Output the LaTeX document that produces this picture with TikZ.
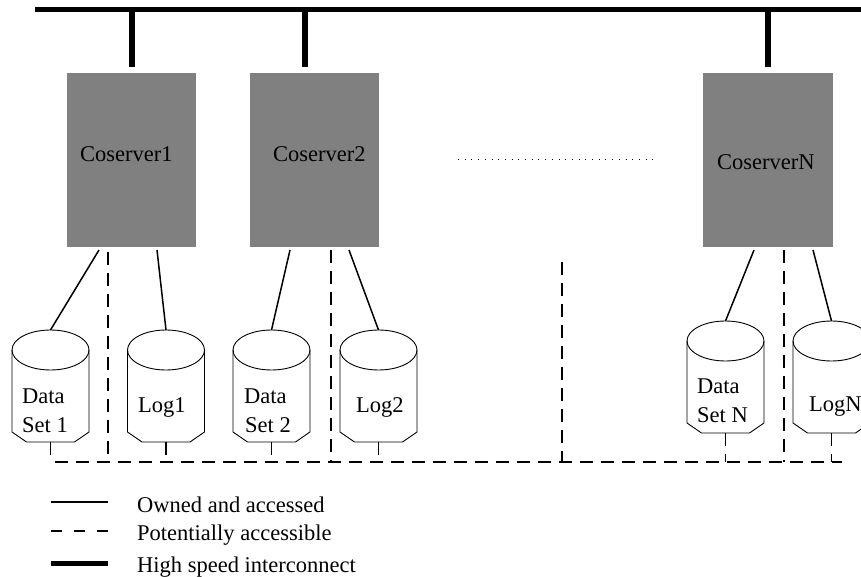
\documentclass[tikz,border=0pt]{standalone}
\usepackage{fontspec}
\setmainfont{Liberation Serif}
\definecolor{srvgray}{RGB}{128,128,128}

% disk drawn as a cylinder with a chamfered base:
% #1 name, #2 centre x, #3 top y
\newcommand\diskshape[3]{%
  \draw[disk] (#2-38.5,#3+20) -- (#2-38.5,#3+102) -- (#2-24,#3+112)
        -- (#2+24,#3+112) -- (#2+38.5,#3+102) -- (#2+38.5,#3+20);
  \draw[disk] (#2,#3+20) ellipse[x radius=38.5, y radius=20];
  \coordinate (#1-t) at (#2,#3);
  \coordinate (#1-b) at (#2,#3+112);
}

\begin{document}
\begin{tikzpicture}[x=1pt,y=-1pt,
  server/.style={fill=srvgray, draw=none, minimum width=129pt,
                 minimum height=174pt, inner sep=0pt},
  owned/.style={line width=1.5pt},
  maybe/.style={line width=1.5pt, dash pattern=on 13pt off 8pt},
  bus/.style={line width=5.5pt},
  disk/.style={line width=0.9pt},
  lbl/.style={font=\fontsize{22.5}{28}\selectfont, inner sep=0pt, anchor=base west}]
\useasboundingbox (0,0) rectangle (861,577);

% interconnect bus
\coordinate (busl) at (35,9.7);
\coordinate (busr) at (861,9.7);
\draw[bus] (busl) -- (busr);

% coservers
\node[server] (c1) at (131.5,160) {};
\node[server] (c2) at (314.5,160) {};
\node[server, minimum width=130pt] (cn) at (768,160) {};
\node[lbl] (c1t) at (80,162) {Coserver1};
\node[lbl] (c2t) at (273,162) {Coserver2};
\node[lbl] (cnt) at (717,170) {CoserverN};

% bus drops
\coordinate (d1) at (132,9.7);
\coordinate (d2) at (305,9.7);
\coordinate (dn) at (768,9.7);
\draw[bus] (d1) -- (d1 |- 0,67);
\draw[bus] (d2) -- (d2 |- 0,67);
\draw[bus] (dn) -- (dn |- 0,67);

% ellipsis between servers
\coordinate (el) at (458,160);
\coordinate (er) at (658,160);
\draw[line width=1pt, dash pattern=on 1pt off 5.7pt] (el) -- (er);

% disks
\diskshape{ds1}{50.5}{330}
\diskshape{lg1}{166}{330}
\diskshape{ds2}{271.5}{330}
\diskshape{lg2}{378.5}{330}
\diskshape{dsn}{725.5}{321}
\diskshape{lgn}{831.5}{321}

\node[lbl] (ds1a) at (22,403) {Data};
\node[lbl] (ds1b) at (22,432) {Set 1};
\node[lbl] (lg1t) at (138,412) {Log1};
\node[lbl] (ds2a) at (244,403) {Data};
\node[lbl] (ds2b) at (245,432) {Set 2};
\node[lbl] (lg2t) at (356,412) {Log2};
\node[lbl] (dsna) at (697,393) {Data};
\node[lbl] (dsnb) at (697,422) {Set N};
\node[lbl] (lgnt) at (809,411) {LogN};

% owned links from servers to their disks
\coordinate (a1) at (99,250);
\coordinate (a2) at (157,250);
\coordinate (a3) at (290,250);
\coordinate (a4) at (349,250);
\coordinate (a5) at (754,250);
\coordinate (a6) at (813,250);
\draw[owned] (a1) -- (ds1-t);
\draw[owned] (a2) -- (lg1-t);
\draw[owned] (a3) -- (ds2-t);
\draw[owned] (a4) -- (lg2-t);
\draw[owned] (a5) -- (dsn-t);
\draw[owned] (a6) -- (lgn-t);

% shared access paths
\coordinate (hl) at (55,462);
\coordinate (hr) at (842,462);
\coordinate (v1) at (108,252);
\coordinate (v2) at (331,250);
\coordinate (v3) at (562,262);
\coordinate (v4) at (784,250);
\draw[maybe] (hl) -- (hr);
\draw[maybe] (v1) -- (v1 |- hl);
\draw[maybe] (v2) -- (v2 |- hl);
\draw[maybe] (v3) -- (v3 |- hl);
\draw[maybe] (v4) -- (v4 |- hl);
\foreach \d in {ds1,lg1,ds2,lg2,dsn,lgn}
  \draw[maybe] (\d-b) -- (\d-b |- hl);

% legend
\coordinate (k1) at (51,502);
\coordinate (k2) at (51,531);
\coordinate (k3) at (51,563);
\draw[owned] (k1) -- ++(57,0);
\draw[line width=1.5pt, dash pattern=on 11pt off 12pt] (k2) -- ++(57,0);
\draw[line width=5pt] (k3) -- ++(57,0);
\node[lbl] (k1t) at (137,512) {Owned and accessed};
\node[lbl] (k2t) at (137,540) {Potentially accessible};
\node[lbl] (k3t) at (137,572) {High speed interconnect};
\end{tikzpicture}
\end{document}
